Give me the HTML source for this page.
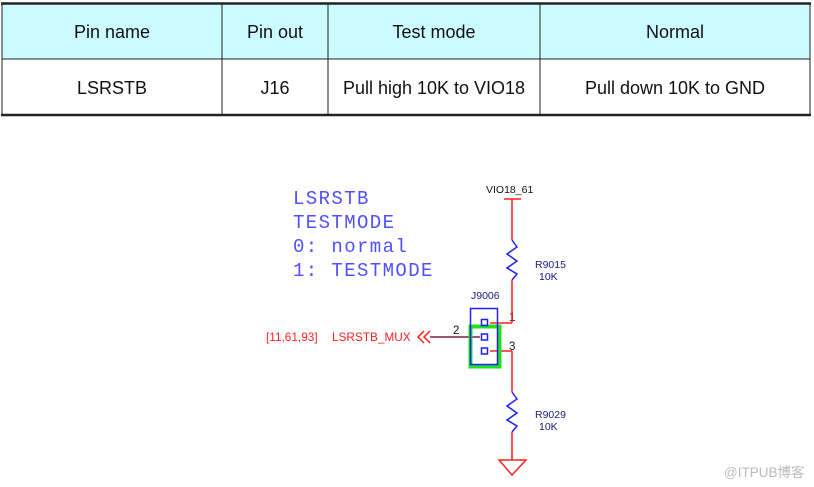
<!DOCTYPE html>
<html><head><meta charset="utf-8"><style>
html,body{margin:0;padding:0;background:#fff;width:814px;height:487px;overflow:hidden}
svg{position:absolute;left:0;top:0}
</style></head><body>
<svg width="814" height="487" viewBox="0 0 814 487" xmlns="http://www.w3.org/2000/svg">
<rect x="2" y="4" width="808" height="55" fill="#ccfbff"/>
<g stroke="#222" fill="none">
<line x1="1" y1="3.5" x2="811" y2="3.5" stroke-width="2.5"/>
<line x1="1" y1="115" x2="811" y2="115" stroke-width="2.5"/>
<line x1="2" y1="59" x2="810" y2="59" stroke-width="1"/>
<line x1="2" y1="3" x2="2" y2="116" stroke-width="1"/>
<line x1="222" y1="3" x2="222" y2="116" stroke-width="1"/>
<line x1="328" y1="3" x2="328" y2="116" stroke-width="1"/>
<line x1="540" y1="3" x2="540" y2="116" stroke-width="1"/>
<line x1="810" y1="3" x2="810" y2="116" stroke-width="1"/>
</g>
<g font-family="Liberation Sans, sans-serif" font-size="18" fill="#111" text-anchor="middle">
<text x="112" y="38">Pin name</text>
<text x="275" y="38">Pin out</text>
<text x="434" y="38">Test mode</text>
<text x="675" y="38">Normal</text>
<text x="112" y="94">LSRSTB</text>
<text x="275" y="94">J16</text>
<text x="434" y="94">Pull high 10K to VIO18</text>
<text x="675" y="94">Pull down 10K to GND</text>
</g>
<g font-family="Liberation Mono, monospace" font-size="19" fill="#5050ff" letter-spacing="1.4">
<text x="293" y="204">LSRSTB</text>
<text x="293" y="228">TESTMODE</text>
<text x="293" y="252">0: normal</text>
<text x="293" y="276">1: TESTMODE</text>
</g>
<g font-family="Liberation Sans, sans-serif" font-size="10.5">
<text x="486" y="193" fill="#111">VIO18_61</text>
<text x="535" y="268" fill="#1a1a80">R9015</text>
<text x="539" y="280" fill="#1a1a80">10K</text>
<text x="471" y="299" fill="#1a1a80">J9006</text>
<text x="535" y="418" fill="#1a1a80">R9029</text>
<text x="539" y="430" fill="#1a1a80">10K</text>
<text x="266" y="341" fill="#ff2020" font-size="11.8">[11,61,93]</text>
<text x="332" y="341" fill="#ff2020" font-size="11.8">LSRSTB_MUX</text>
<text x="453" y="334" fill="#111" font-size="11.5">2</text>
<text x="509" y="321" fill="#111" font-size="11.5">1</text>
<text x="509" y="350" fill="#111" font-size="11.5">3</text>
</g>
<g fill="none" stroke-width="1.5">
<line x1="504" y1="199" x2="521" y2="199" stroke="#ff2020"/>
<line x1="512" y1="199" x2="512" y2="240" stroke="#ff2020"/>
<polyline points="512,240 517,247 507,254 517,261 507,268 517,274 512,280" stroke="#2020ff"/>
<line x1="512" y1="280" x2="512" y2="323" stroke="#ff2020"/>
<line x1="490" y1="323" x2="512" y2="323" stroke="#ff2020"/>
<line x1="490" y1="351" x2="512" y2="351" stroke="#ff2020"/>
<line x1="512" y1="351" x2="512" y2="392" stroke="#ff2020"/>
<polyline points="512,392 517,399 507,406 517,413 507,420 517,426 512,432" stroke="#2020ff"/>
<line x1="512" y1="432" x2="512" y2="460" stroke="#ff2020"/>
<polygon points="499,460 526,460 512,475" stroke="#ff2020"/>
<line x1="430" y1="337" x2="480" y2="337" stroke="#802040"/>
<polyline points="424,331 418,337 424,343" stroke="#ff2020"/>
<polyline points="430,331 424,337 430,343" stroke="#ff2020"/>
<rect x="470.5" y="326.5" width="29" height="40" stroke="#20e020" stroke-width="4"/>
<rect x="470.5" y="308.5" width="27" height="56" stroke="#2020ff" stroke-width="1.5"/>
<rect x="481.5" y="319.5" width="6" height="6" stroke="#2020ff"/>
<rect x="481.5" y="334" width="6" height="6" stroke="#2020ff"/>
<rect x="481.5" y="348" width="6" height="6" stroke="#2020ff"/>
</g>
<text x="724" y="477" font-family="Liberation Sans, Noto Sans CJK SC, sans-serif" font-size="13.5" fill="#bbb">@ITPUB博客</text>
</svg>
</body></html>
